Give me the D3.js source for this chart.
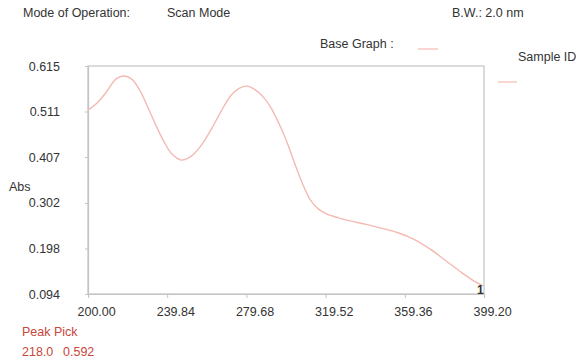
<!DOCTYPE html>
<html>
<head>
<meta charset="utf-8">
<script src="https://cdn.jsdelivr.net/npm/d3@7"></script>
<style>
  html, body { margin: 0; padding: 0; background: #ffffff; }
  svg { display: block; }
  text { font-family: "Liberation Sans", Arial, sans-serif; fill: #333; }
</style>
</head>
<body>
<svg id="chart" width="576" height="364"></svg>
<script>
// Scan spectrum: wavelength (nm) vs absorbance
const wavelengths = [200, 204, 209, 214, 218, 222, 226, 230, 234, 238, 242, 247, 252, 257, 262,
                     267, 272, 276, 280, 284, 288, 292, 296, 300, 304, 308, 312, 316, 320, 326,
                     332, 340, 348, 356, 364, 372, 380, 388, 394, 399.2];
const absorbance = [0.514, 0.528, 0.554, 0.585, 0.592, 0.585, 0.560, 0.522, 0.481, 0.444, 0.415,
                    0.400, 0.409, 0.434, 0.470, 0.512, 0.548, 0.564, 0.569, 0.561, 0.545, 0.520,
                    0.484, 0.442, 0.392, 0.345, 0.308, 0.288, 0.277, 0.268, 0.261, 0.253, 0.244,
                    0.234, 0.219, 0.197, 0.170, 0.143, 0.124, 0.112];

const xTicks = [200.00, 239.84, 279.68, 319.52, 359.36, 399.20];
const yTicks = [0.094, 0.198, 0.302, 0.407, 0.511, 0.615];

const peakWavelength = 218.0;
const peakAbs = 0.592;

const svg = d3.select("#chart");
const plotLeft = 88, plotRight = 484, plotTop = 66, plotBottom = 294;
const fontSize = "12.5px";

const x = d3.scaleLinear().domain([200.0, 399.2]).range([plotLeft, plotRight]);
const y = d3.scaleLinear().domain([0.094, 0.615]).range([plotBottom, plotTop]);

const axisColor = "#c4c4c4";
const lineColor = "#f3bab2";
const red = "#c8463a";

// header
svg.append("text").attr("x", 23).attr("y", 17).style("font-size", fontSize).text("Mode of Operation:");
svg.append("text").attr("x", 167).attr("y", 17).style("font-size", fontSize).text("Scan Mode");
svg.append("text").attr("x", 452).attr("y", 17).style("font-size", fontSize).text("B.W.:  2.0 nm");

// legend
svg.append("text").attr("x", 320).attr("y", 48).style("font-size", fontSize).text("Base Graph :");
svg.append("line").attr("x1", 418).attr("x2", 438).attr("y1", 49).attr("y2", 49)
  .attr("stroke", lineColor).attr("stroke-width", 1.2);
svg.append("text").attr("x", 518).attr("y", 61).style("font-size", fontSize).text("Sample ID");
svg.append("line").attr("x1", 498).attr("x2", 517).attr("y1", 82).attr("y2", 82)
  .attr("stroke", lineColor).attr("stroke-width", 1.2);

// plot frame
svg.append("rect").attr("x", plotLeft).attr("y", plotTop)
  .attr("width", plotRight - plotLeft).attr("height", plotBottom - plotTop)
  .attr("fill", "none").attr("stroke", axisColor).attr("stroke-width", 1.2);

// x axis
const xAxis = svg.append("g").attr("transform", `translate(0,${plotBottom})`)
  .call(d3.axisBottom(x).tickValues(xTicks).tickSize(4).tickFormat(d3.format(".2f")));
xAxis.select(".domain").attr("stroke", axisColor).attr("stroke-width", 1.2);
xAxis.selectAll(".tick line").attr("stroke", axisColor);
xAxis.selectAll(".tick text")
  .attr("text-anchor", "start").attr("x", -11).attr("y", 13)
  .style("font-size", fontSize).attr("fill", "#333");

// y axis
const yAxis = svg.append("g").attr("transform", `translate(${plotLeft},0)`)
  .call(d3.axisLeft(y).tickValues(yTicks).tickSize(3).tickFormat(d3.format(".3f")));
yAxis.select(".domain").attr("stroke", axisColor).attr("stroke-width", 1.2);
yAxis.selectAll(".tick line").attr("stroke", axisColor);
yAxis.selectAll(".tick text")
  .attr("x", -28)
  .style("font-size", fontSize).attr("fill", "#333");

svg.append("text").attr("x", 9).attr("y", 191).style("font-size", fontSize).text("Abs");

// spectrum
const pts = wavelengths.map((w, i) => [w, absorbance[i]]);
const line = d3.line().x(d => x(d[0])).y(d => y(d[1])).curve(d3.curveCatmullRom.alpha(0.5));
svg.append("path").datum(pts).attr("d", line)
  .attr("fill", "none").attr("stroke", lineColor).attr("stroke-width", 1.4);

// trace number at end of curve
svg.append("text").attr("x", x(399.2) - 7).attr("y", 294)
  .style("font-size", "12px").style("font-weight", "bold").attr("fill", "#222").text("1");

// peak pick
svg.append("text").attr("x", 22).attr("y", 336).style("font-size", fontSize)
  .style("fill", red).text("Peak Pick");
svg.append("text").attr("x", 22).attr("y", 356).style("font-size", fontSize)
  .style("fill", red).text(peakWavelength.toFixed(1));
svg.append("text").attr("x", 63).attr("y", 356).style("font-size", fontSize)
  .style("fill", red).text(peakAbs.toFixed(3));
</script>
</body>
</html>
